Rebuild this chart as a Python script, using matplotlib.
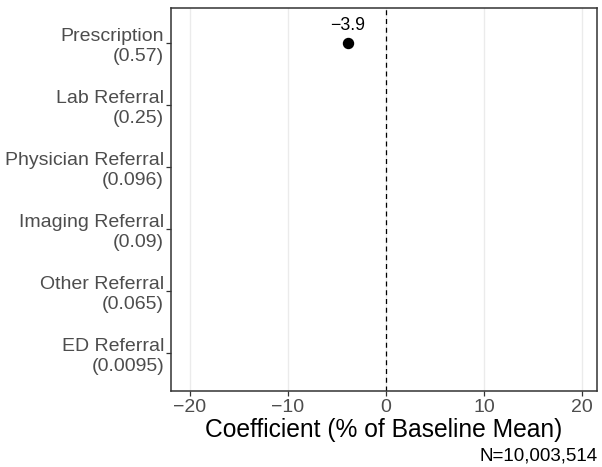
import matplotlib
matplotlib.use("Agg")
import matplotlib.pyplot as plt
import numpy as np

plt.rcParams['font.family'] = ['Liberation Sans', 'DejaVu Sans']

# Outcome categories (top to bottom) and their baseline means
categories = ["Prescription", "Lab Referral", "Physician Referral",
              "Imaging Referral", "Other Referral", "ED Referral"]
baseline_means = ["0.57", "0.25", "0.096", "0.09", "0.065", "0.0095"]
# Estimated coefficients (% of baseline mean); NaN where not estimated
coefficients = [-3.9, np.nan, np.nan, np.nan, np.nan, np.nan]
coef_labels = ["\u22123.9", "", "", "", "", ""]
x_ticks = [-20, -10, 0, 10, 20]
sample_note = "N=10,003,514"

fig = plt.figure(figsize=(6.02, 4.67), dpi=100)
ax = fig.add_axes([171/602, 1 - 391/467, (597 - 171)/602, (391 - 8)/467])

n = len(categories)
ypos = np.arange(n, 0, -1)

ax.axvline(0, color="black", lw=0.9, ls=(0, (4, 3)), zorder=2)
ax.plot(coefficients, ypos, "o", color="black", ms=7.2, zorder=3)
for x, y, lab in zip(coefficients, ypos, coef_labels):
    if not np.isnan(x) and lab:
        ax.annotate(lab, (x, y), xytext=(0, 7), textcoords="offset points",
                    ha="center", va="bottom", fontsize=12.8, color="black")

ax.set_xlim(-21.9, 21.5)
ax.set_ylim(0.39, 6.57)
ax.set_xticks(x_ticks)
ax.set_xticklabels([("\u2212" + str(-t)) if t < 0 else str(t) for t in x_ticks])
ax.set_yticks(ypos)
ax.set_yticklabels([f"{c}\n({m})" for c, m in zip(categories, baseline_means)],
                   linespacing=1.22)
ax.xaxis.grid(True, color="#EBEBEB", lw=1.0)
ax.set_axisbelow(True)
ax.tick_params(axis="both", colors="#333333", labelcolor="#4D4D4D",
               labelsize=14, length=3.5, width=0.9, pad=2.5)
ax.tick_params(axis="y", pad=1.5)
for sp in ax.spines.values():
    sp.set_color("#333333")
    sp.set_linewidth(1.1)

ax.set_xlabel("Coefficient (% of Baseline Mean)", fontsize=17.7, color="black",
              labelpad=1)
fig.text(598/602, 1 - 456/467, sample_note, ha="right", va="center",
         fontsize=13.5, color="black")

fig.savefig("out.png", dpi=100)
